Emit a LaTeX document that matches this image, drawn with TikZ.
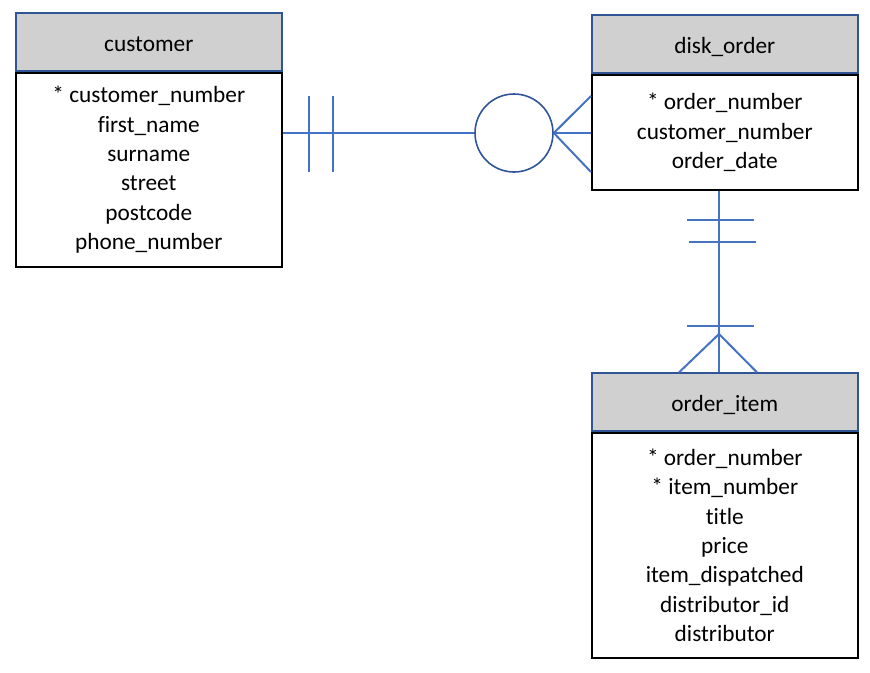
\documentclass[tikz,border=0pt]{standalone}
\usepackage{fontspec}
\setmainfont{Carlito}[Ligatures={NoCommon}]
\usepackage{tikz}
\usetikzlibrary{positioning}
\definecolor{hdrblue}{HTML}{2F5597}
\definecolor{lnblue}{HTML}{4472C4}
\definecolor{hdrgray}{HTML}{D0D0D0}

\begin{document}
\begin{tikzpicture}[x=1pt, y=-1pt, every node/.style={font=\fontsize{23.3}{29.4}\selectfont, inner sep=0pt},
	ehead/.style={draw=hdrblue, fill=hdrgray, line width=1.6pt, minimum width=266pt, minimum height=58pt, text height=19pt, text depth=0pt},
	ebody/.style={draw=black, fill=white, line width=1.6pt, minimum width=266pt, align=center},
	link/.style={draw=lnblue, line width=2pt}]
	\useasboundingbox (0,0) rectangle (870,672);
	% entities
	\node[ebody, minimum height=194pt, anchor=north west] (custBody) at (15,72) {* customer\_number\\first\_name\\surname\\street\\postcode\\phone\_number};
	\node[ehead, anchor=south west] (cust) at (custBody.north west) {customer};
	\node[ebody, minimum height=115pt, anchor=north west] (orderBody) at (591,74) {* order\_number\\customer\_number\\order\_date};
	\node[ehead, anchor=south west] (order) at (orderBody.north west) {disk\_order};
	\node[ebody, minimum height=225pt, anchor=north west] (itemBody) at (591,432) {* order\_number\\* item\_number\\title\\price\\item\_dispatched\\distributor\_id\\distributor};
	\node[ehead, anchor=south west] (item) at (itemBody.north west) {order\_item};
	% customer -- disk_order
	\node[circle, draw=hdrblue, line width=1.6pt, minimum size=78pt] (opt) at (514,133) {};
	\draw[link] (opt.west) -- (opt.west -| custBody.east);
	\draw[link] (opt.east) -- (opt.east -| orderBody.west);
	\draw[link] (opt.east) -- (orderBody.west |- 0,96);
	\draw[link] (opt.east) -- (orderBody.west |- 0,172);
	\draw[link] (309,96) -- (309,172);
	\draw[link] (333,96) -- (333,172);
	% disk_order -- order_item
	\coordinate (apex) at (719,334);
	\draw[link] (orderBody.south -| apex) -- (item.north -| apex);
	\draw[link] (687,220) -- (754,220);
	\draw[link] (689,242) -- (756,242);
	\draw[link] (687,326) -- (754,326);
	\draw[link] (apex) -- (item.north -| 679,0);
	\draw[link] (apex) -- (item.north -| 757,0);
\end{tikzpicture}
\end{document}
